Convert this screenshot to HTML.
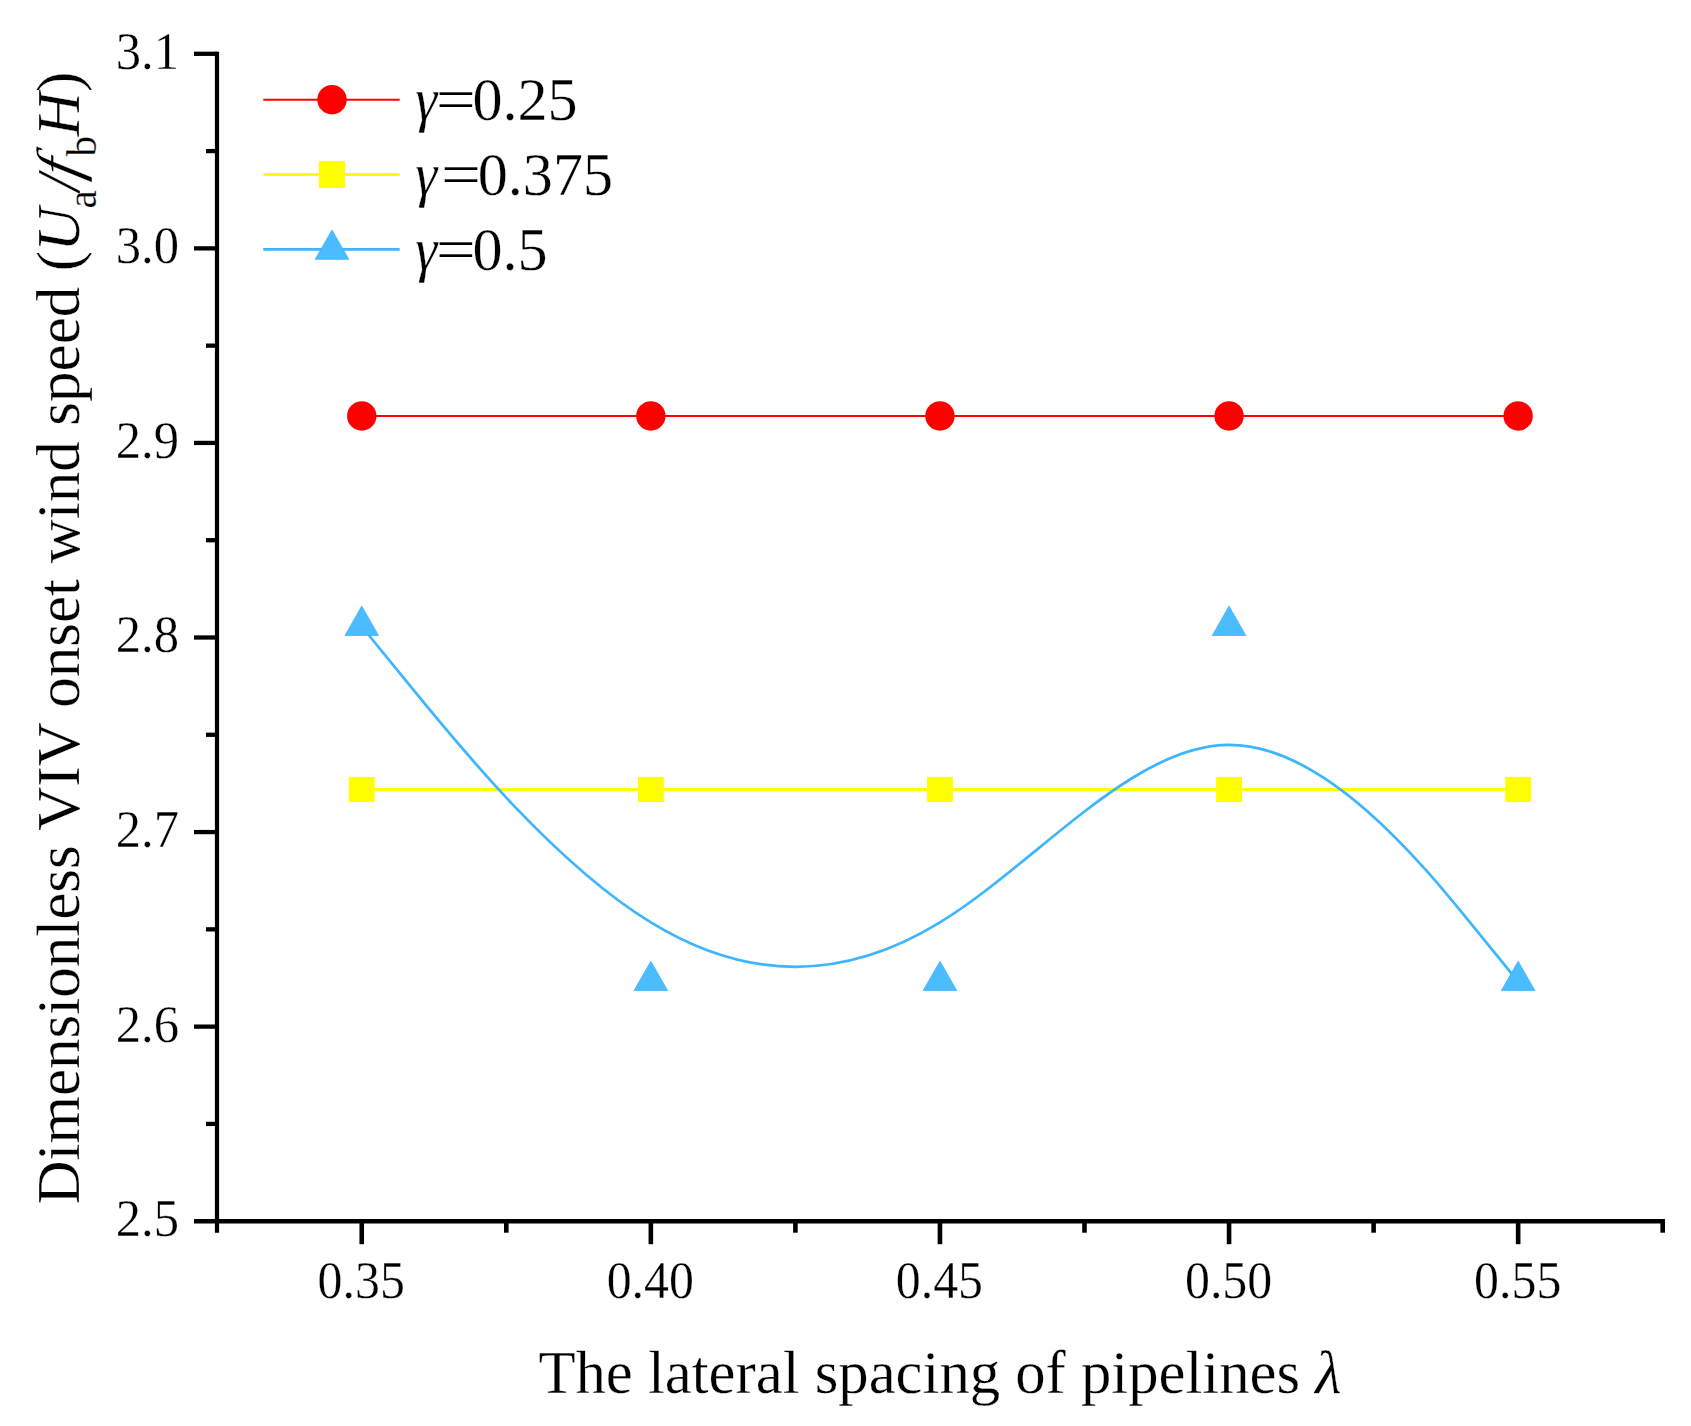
<!DOCTYPE html>
<html><head><meta charset="utf-8"><title>Dimensionless VIV onset wind speed</title>
<style>
html,body{margin:0;padding:0;background:#fff;}
body{width:1691px;height:1426px;overflow:hidden;}
svg{display:block;}
text{font-family:"Liberation Serif","Times New Roman",serif;fill:#000;stroke:#fff;stroke-width:0.3px;}
.tk{font-size:50.6px;}
.tt{font-size:60.7px;}
.lg{font-size:60.7px;}
.i{font-style:italic;}
</style></head><body>
<svg width="1691" height="1426" viewBox="0 0 1691 1426">
<rect width="1691" height="1426" fill="#fff"/>

<g stroke="#000" stroke-width="4.6" fill="none" stroke-linecap="butt">
<line x1="217.0" y1="51.65" x2="217.0" y2="1232.7" stroke-width="4.2"/>
<line x1="194.0" y1="1221.2" x2="1664.9999999999998" y2="1221.2"/>
<line x1="206.0" y1="1123.92" x2="217.0" y2="1123.92" stroke-width="4.3"/>
<line x1="194.0" y1="1026.63" x2="217.0" y2="1026.63" stroke-width="4.3"/>
<line x1="206.0" y1="929.35" x2="217.0" y2="929.35" stroke-width="4.3"/>
<line x1="194.0" y1="832.07" x2="217.0" y2="832.07" stroke-width="4.3"/>
<line x1="206.0" y1="734.78" x2="217.0" y2="734.78" stroke-width="4.3"/>
<line x1="194.0" y1="637.50" x2="217.0" y2="637.50" stroke-width="4.3"/>
<line x1="206.0" y1="540.22" x2="217.0" y2="540.22" stroke-width="4.3"/>
<line x1="194.0" y1="442.93" x2="217.0" y2="442.93" stroke-width="4.3"/>
<line x1="206.0" y1="345.65" x2="217.0" y2="345.65" stroke-width="4.3"/>
<line x1="194.0" y1="248.37" x2="217.0" y2="248.37" stroke-width="4.3"/>
<line x1="206.0" y1="151.08" x2="217.0" y2="151.08" stroke-width="4.3"/>
<line x1="194.0" y1="53.80" x2="217.0" y2="53.80" stroke-width="4.3"/>
<line x1="361.75" y1="1221.2" x2="361.75" y2="1244.2"/>
<line x1="506.30" y1="1221.2" x2="506.30" y2="1232.7"/>
<line x1="650.85" y1="1221.2" x2="650.85" y2="1244.2"/>
<line x1="795.40" y1="1221.2" x2="795.40" y2="1232.7"/>
<line x1="939.95" y1="1221.2" x2="939.95" y2="1244.2"/>
<line x1="1084.50" y1="1221.2" x2="1084.50" y2="1232.7"/>
<line x1="1229.05" y1="1221.2" x2="1229.05" y2="1244.2"/>
<line x1="1373.60" y1="1221.2" x2="1373.60" y2="1232.7"/>
<line x1="1518.15" y1="1221.2" x2="1518.15" y2="1244.2"/>
<line x1="1662.70" y1="1221.2" x2="1662.70" y2="1232.7"/>
</g>
<text class="tk" transform="translate(179 1236.1) scale(1 1.03)" text-anchor="end">2.5</text>
<text class="tk" transform="translate(179 1041.5) scale(1 1.03)" text-anchor="end">2.6</text>
<text class="tk" transform="translate(179 847.0) scale(1 1.03)" text-anchor="end">2.7</text>
<text class="tk" transform="translate(179 652.4) scale(1 1.03)" text-anchor="end">2.8</text>
<text class="tk" transform="translate(179 457.8) scale(1 1.03)" text-anchor="end">2.9</text>
<text class="tk" transform="translate(179 263.3) scale(1 1.03)" text-anchor="end">3.0</text>
<text class="tk" transform="translate(179 68.7) scale(1 1.03)" text-anchor="end">3.1</text>
<text class="tk" transform="translate(361.2 1297.8) scale(0.985 1.03)" text-anchor="middle">0.35</text>
<text class="tk" transform="translate(650.3 1297.8) scale(0.985 1.03)" text-anchor="middle">0.40</text>
<text class="tk" transform="translate(939.4 1297.8) scale(0.985 1.03)" text-anchor="middle">0.45</text>
<text class="tk" transform="translate(1228.6 1297.8) scale(0.985 1.03)" text-anchor="middle">0.50</text>
<text class="tk" transform="translate(1517.7 1297.8) scale(0.985 1.03)" text-anchor="middle">0.55</text>
<text class="tt" x="940" y="1393" text-anchor="middle">The lateral spacing of pipelines <tspan class="i">λ</tspan></text>
<g transform="translate(78.7,1202.7) rotate(-90)" font-size="61">
<text x="-1.76" y="0" word-spacing="0.4">Dimensionless VIV onset wind speed (</text>
<text x="951.2" y="0" class="i">U</text>
<text x="994.3" y="16.8" font-size="41.5">a</text>
<text x="1011.4" y="0" class="i">/</text>
<text transform="translate(1022.8 0) skewX(-13)" class="i">f</text>
<text x="1045.9" y="16.8" font-size="41.5">b</text>
<text x="1066.4" y="0" class="i">H</text>
<text x="1110.8" y="0">)</text>
</g>
<line x1="361.75" y1="415.95" x2="1518.1500000000003" y2="415.95" stroke="#ff0000" stroke-width="2"/>
<circle cx="361.75" cy="415.95" r="14.7" fill="#ff0000"/>
<circle cx="650.85" cy="415.95" r="14.7" fill="#ff0000"/>
<circle cx="939.95" cy="415.95" r="14.7" fill="#ff0000"/>
<circle cx="1229.05" cy="415.95" r="14.7" fill="#ff0000"/>
<circle cx="1518.15" cy="415.95" r="14.7" fill="#ff0000"/>
<line x1="361.75" y1="789.5" x2="1518.1500000000003" y2="789.5" stroke="#ffff00" stroke-width="3"/>
<rect x="348.85" y="776.9" width="25.8" height="25.2" fill="#ffff00"/>
<rect x="637.95" y="776.9" width="25.8" height="25.2" fill="#ffff00"/>
<rect x="927.05" y="776.9" width="25.8" height="25.2" fill="#ffff00"/>
<rect x="1216.15" y="776.9" width="25.8" height="25.2" fill="#ffff00"/>
<rect x="1505.25" y="776.9" width="25.8" height="25.2" fill="#ffff00"/>
<path d="M361.75,626.50 C361.75,626.50 361.75,626.50 409.93,685.68 C458.12,744.87 554.48,863.23 650.85,922.42 C747.22,981.60 843.58,981.60 939.95,922.42 C1036.32,863.23 1132.68,744.87 1229.05,744.87 C1325.42,744.87 1421.78,863.23 1469.97,922.42 C1518.15,981.60 1518.15,981.60 1518.15,981.60" fill="none" stroke="#3db5ff" stroke-width="2.7"/>
<polygon points="361.75,606.10 344.95,635.50 378.55,635.50" fill="#4bbcff" stroke="#3db5ff" stroke-width="0.8" stroke-linejoin="miter"/>
<polygon points="650.85,961.20 634.05,990.60 667.65,990.60" fill="#4bbcff" stroke="#3db5ff" stroke-width="0.8" stroke-linejoin="miter"/>
<polygon points="939.95,961.20 923.15,990.60 956.75,990.60" fill="#4bbcff" stroke="#3db5ff" stroke-width="0.8" stroke-linejoin="miter"/>
<polygon points="1229.05,606.10 1212.25,635.50 1245.85,635.50" fill="#4bbcff" stroke="#3db5ff" stroke-width="0.8" stroke-linejoin="miter"/>
<polygon points="1518.15,961.20 1501.35,990.60 1534.95,990.60" fill="#4bbcff" stroke="#3db5ff" stroke-width="0.8" stroke-linejoin="miter"/>
<line x1="263.3" y1="99.7" x2="399.7" y2="99.7" stroke="#ff0000" stroke-width="2"/>
<circle cx="332" cy="99.7" r="14.7" fill="#ff0000"/>
<line x1="263.3" y1="174.45" x2="399.7" y2="174.45" stroke="#ffff00" stroke-width="3"/>
<rect x="319" y="160.95" width="26" height="27" fill="#ffff00"/>
<line x1="263.3" y1="249.3" x2="399.7" y2="249.3" stroke="#3db5ff" stroke-width="2.7"/>
<polygon points="332.00,229.90 315.20,259.30 348.80,259.30" fill="#4bbcff" stroke="#3db5ff" stroke-width="0.8" stroke-linejoin="miter"/>
<text class="lg i" transform="translate(415.2 120.3) scale(0.92 1)">γ</text>
<text class="lg" x="435.7" y="120.3" textLength="40" lengthAdjust="spacingAndGlyphs">=</text>
<text class="lg" transform="translate(472.4 120.3) scale(1 1.03)" style="font-size:60.1px">0.25</text>
<text class="lg i" transform="translate(415.2 195.3) scale(0.92 1)">γ</text>
<text class="lg" x="441.1" y="195.3" textLength="40" lengthAdjust="spacingAndGlyphs">=</text>
<text class="lg" transform="translate(477.8 195.3) scale(1 1.03)" style="font-size:60.1px">0.375</text>
<text class="lg i" transform="translate(415.2 270) scale(0.92 1)">γ</text>
<text class="lg" x="435.7" y="270" textLength="40" lengthAdjust="spacingAndGlyphs">=</text>
<text class="lg" transform="translate(472.4 270) scale(1 1.03)" style="font-size:60.1px">0.5</text>
</svg></body></html>
